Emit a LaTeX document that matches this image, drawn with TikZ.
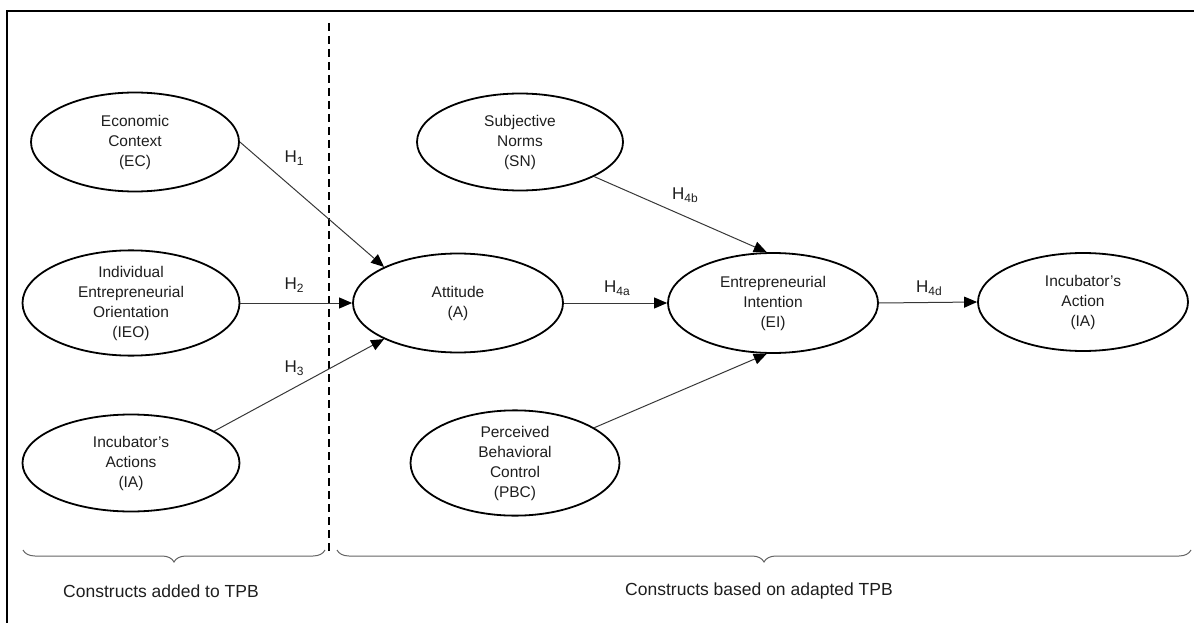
\documentclass[tikz,border=0pt]{standalone}
\usepackage{fontspec}
\setmainfont{Liberation Sans}
\usetikzlibrary{
  arrows.meta,
  shapes.geometric,
  decorations.pathreplacing
}
\definecolor{inkgray}{RGB}{30,30,30}
\definecolor{linegray}{RGB}{55,55,55}
\definecolor{bracegray}{RGB}{100,100,100}

\newcommand{\hyplabel}[1]{H\raisebox{-0.35ex}{\fontsize{12}{12}\selectfont #1}}

\tikzset{
  construct/.style={draw, ellipse, line width=1.8pt, inner sep=0pt,
    minimum width=210pt, minimum height=99pt, align=center, text=inkgray,
    font=\fontsize{15.5}{20}\selectfont},
  hyp/.style={draw=linegray, line width=1pt,
    -{Triangle[length=13pt,width=11pt,color=black]}},
  hlabel/.style={text=inkgray, font=\fontsize{17}{18}\selectfont},
  grouplabel/.style={text=inkgray, font=\fontsize{17.5}{20}\selectfont},
  grouping/.style={draw=bracegray, line width=1pt, decorate,
    decoration={brace, mirror, amplitude=12pt}}
}

\begin{document}
\begin{tikzpicture}[x=1pt, y=-1pt]
  \useasboundingbox (0,0) rectangle (1194,623);

  % frame
  \draw[line width=2.5pt] (7,623) -- (7,11) -- (1194,11);

  % added constructs
  \node[construct, minimum width=208pt] (ec) at (135,142) {Economic\\Context\\(EC)};
  \node[construct, minimum width=217pt, minimum height=100pt] (ieo) at (131,303) {Individual\\Entrepreneurial\\Orientation\\(IEO)};
  \node[construct, minimum width=217pt, minimum height=97pt] (ial) at (131,463) {Incubator’s\\Actions\\(IA)};

  % TPB constructs
  \node[construct, minimum width=206pt, minimum height=97pt] (sn) at (520,142) {Subjective\\Norms\\(SN)};
  \node[construct] (att) at (458,303) {Attitude\\(A)};
  \node[construct, minimum width=209pt, minimum height=97pt] (pbc) at (515,463) {Perceived\\Behavioral\\Control\\(PBC)};
  \node[construct, minimum height=100pt] (ei) at (773,303) {Entrepreneurial\\Intention\\(EI)};
  \node[construct, minimum height=98pt] (iar) at (1083,302) {Incubator’s\\Action\\(IA)};

  % divider
  \coordinate (divtop) at (329,23);
  \coordinate (divbot) at (329,551);
  \draw[line width=1.8pt, dash pattern=on 8pt off 5pt] (divtop) -- (divbot);

  % hypotheses
  \draw[hyp] (ec.east) -- (att.154);
  \draw[hyp] (ieo.east) -- (att.west);
  \draw[hyp] (ial.21) -- (att.206);
  \draw[hyp] (att.east) -- (ei.west);
  \draw[hyp] (sn.335) -- (ei.97);
  \draw[hyp] (pbc.24) -- (ei.263);
  \draw[hyp] (ei.east) -- (iar.west);

  \node[hlabel] (h1) at (294,158) {\hyplabel{1}};
  \node[hlabel] (h2) at (294,285) {\hyplabel{2}};
  \node[hlabel] (h3) at (294,368) {\hyplabel{3}};
  \node[hlabel] (h4a) at (617,288) {\hyplabel{4a}};
  \node[hlabel] (h4b) at (685,195) {\hyplabel{4b}};
  \node[hlabel] (h4d) at (929,288) {\hyplabel{4d}};

  % groupings
  \coordinate (addl) at (23,550);
  \coordinate (addr) at (325,550);
  \coordinate (basl) at (337,550);
  \coordinate (basr) at (1191,550);
  \draw[grouping] (addl) -- (addr);
  \draw[grouping] (basl) -- (basr);
  \node[grouplabel] (addtxt) at (161,591) {Constructs added to TPB};
  \node[grouplabel] (bastxt) at (759,591) {Constructs based on adapted TPB};
\end{tikzpicture}
\end{document}
